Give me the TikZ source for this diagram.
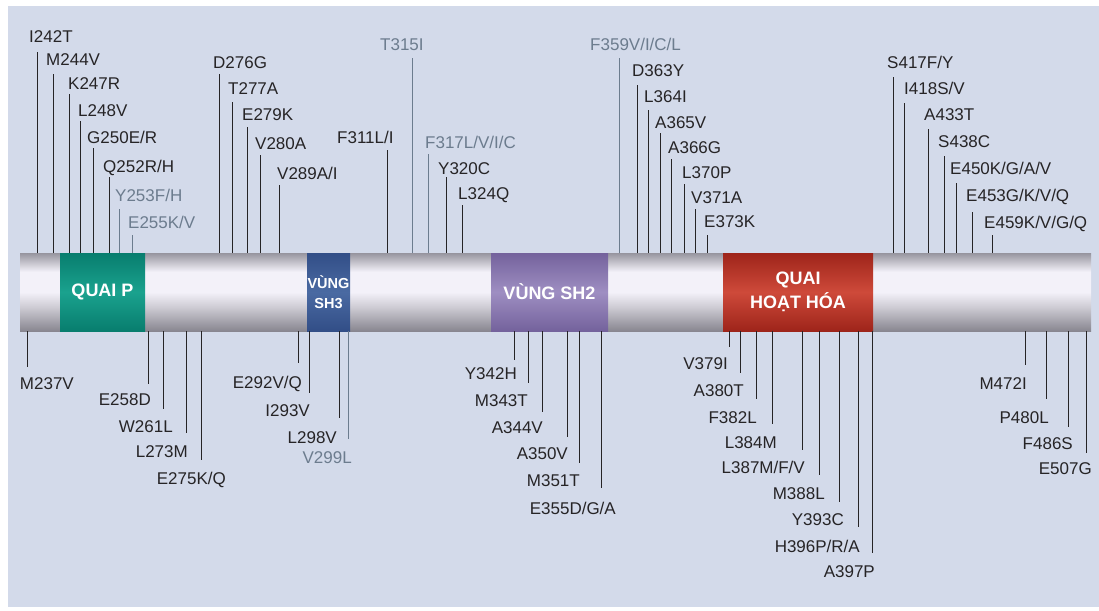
\documentclass[tikz,border=0pt]{standalone}
\usepackage{fontspec}
\setmainfont{Liberation Sans}
\definecolor{bgblue}{RGB}{211,218,234}
\definecolor{mutdark}{RGB}{38,36,38}
\definecolor{mutgray}{RGB}{108,124,142}
\definecolor{tubetop}{RGB}{150,148,158}
\definecolor{tubebot}{RGB}{136,134,144}
\definecolor{tubemid}{RGB}{204,202,210}
\definecolor{tubelight}{RGB}{243,241,249}
\definecolor{pedge}{RGB}{8,125,110}
\definecolor{plight}{RGB}{26,162,142}
\definecolor{sh3edge}{RGB}{50,78,135}
\definecolor{sh3light}{RGB}{74,106,162}
\definecolor{sh2edge}{RGB}{116,98,156}
\definecolor{sh2light}{RGB}{158,142,194}
\definecolor{aedge}{RGB}{158,36,26}
\definecolor{alight}{RGB}{206,74,58}
\pgfdeclareverticalshading{tube}{100bp}{color(0bp)=(tubebot); color(25bp)=(tubebot); color(40bp)=(tubemid); color(50bp)=(tubelight); color(63bp)=(tubelight); color(75bp)=(tubetop); color(100bp)=(tubetop)}

\begin{document}
\begin{tikzpicture}[x=1pt, y=-1pt,
  mutlabel/.style={inner sep=0pt, font=\fontsize{17}{20}\selectfont},
  tick/.style={line width=0.9pt},
  dombox/.style={inner sep=0pt, minimum height=78pt, text=white, align=center,
    font=\bfseries\fontsize{18}{24}\selectfont}]

\useasboundingbox (0,0) rectangle (1099,610);
\fill[bgblue] (8,6) rectangle (1099,607);

%---------------------------------------
% Protein bar and domains
%---------------------------------------
\node[shade, shading=tube, inner sep=0pt, minimum width=1071pt, minimum height=78pt] (bar) at (555.5,292) {};

\node[dombox, minimum width=85pt, top color=pedge, bottom color=pedge, middle color=plight] (quaip) at (102.5,292) {QUAI P};
\node[dombox, minimum width=43pt, top color=sh3edge, bottom color=sh3edge, middle color=sh3light,
  font=\bfseries\fontsize{14.5}{20}\selectfont] (sh3) at (328.5,292) {VÙNG\\SH3};
\node[dombox, minimum width=117pt, top color=sh2edge, bottom color=sh2edge, middle color=sh2light] (sh2) at (549.5,292) {VÙNG SH2};
\node[dombox, minimum width=150pt, top color=aedge, bottom color=aedge, middle color=alight] (hoathoa) at (798,292) {QUAI\\HOẠT HÓA};

%---------------------------------------
% Mutations above the bar
%---------------------------------------
\foreach \lx/\ty/\tx/\yc/\txt/\col in {
  37/52/29/37/I242T/mutdark,
  53/74/46/60/M244V/mutdark,
  69/94/68/83/K247R/mutdark,
  80/121/78/110/L248V/mutdark,
  93/148/87/137/{G250E/R}/mutdark,
  109/177/103/166/{Q252R/H}/mutdark,
  119/209/115/195/{Y253F/H}/mutgray,
  132/235/128/222/{E255K/V}/mutgray,
  219/74/213/62/D276G/mutdark,
  232/102/228/88/T277A/mutdark,
  247/127/242/114/E279K/mutdark,
  260/155/255/143/V280A/mutdark,
  279/185/277/173/{V289A/I}/mutdark,
  387/150/337/137/{F311L/I}/mutdark,
  412/58/380/45/T315I/mutgray,
  428/154/425/142/{F317L/V/I/C}/mutgray,
  446/177/438/168/Y320C/mutdark,
  462/205/458/193/L324Q/mutdark,
  619/58/590/45/{F359V/I/C/L}/mutgray,
  637/85/632/70/D363Y/mutdark,
  648/110/644/96/L364I/mutdark,
  660/133/655/122/A365V/mutdark,
  671/159/668/147/A366G/mutdark,
  684/184/682/172/L370P/mutdark,
  695/209/691/197/V371A/mutdark,
  707/235/704/221/E373K/mutdark,
  893/77/887/62/{S417F/Y}/mutdark,
  904/103/904/88/{I418S/V}/mutdark,
  928/129/924/114/A433T/mutdark,
  944/156/938/141/S438C/mutdark,
  956/183/950/168/{E450K/G/A/V}/mutdark,
  972/212/966/195/{E453G/K/V/Q}/mutdark,
  992/235/984/222/{E459K/V/G/Q}/mutdark}{
  \node[mutlabel, text=\col, anchor=base west] (top-\lx) at (\tx,\yc+6) {\txt};
  \coordinate (tend-\lx) at (\lx,\ty);
  \draw[tick, draw=\col] (bar.north -| tend-\lx) -- (tend-\lx);
}

%---------------------------------------
% Mutations below the bar
%---------------------------------------
\foreach \lx/\by/\tx/\yc/\txt/\col in {
  27/367/74/383/M237V/mutdark,
  148/384/151/399/E258D/mutdark,
  163/409/173/426/W261L/mutdark,
  186/433/188/451/L273M/mutdark,
  201/460/226/478/{E275K/Q}/mutdark,
  298/363/302/382/{E292V/Q}/mutdark,
  309/393/310/410/I293V/mutdark,
  339/418/337/437/L298V/mutdark,
  348/439/352/457/V299L/mutgray,
  514/360/517/373/Y342H/mutdark,
  528/383/528/400/M343T/mutdark,
  542/412/543/427/A344V/mutdark,
  567/437/568/453/A350V/mutdark,
  579/463/580/480/M351T/mutdark,
  601/488/616/508/{E355D/G/A}/mutdark,
  729/347/728/363/V379I/mutdark,
  740/373/744/390/A380T/mutdark,
  756/399/757/417/F382L/mutdark,
  772/424/777/442/L384M/mutdark,
  802/450/805/467/{L387M/F/V}/mutdark,
  819/475/825/493/M388L/mutdark,
  839/502/844/519/Y393C/mutdark,
  858/527/860/546/{H396P/R/A}/mutdark,
  872/553/875/571/A397P/mutdark,
  1025/365/1027/383/M472I/mutdark,
  1046/399/1049/417/P480L/mutdark,
  1068/427/1073/443/F486S/mutdark,
  1086/453/1092/468/E507G/mutdark}{
  \node[mutlabel, text=\col, anchor=base east] (bot-\lx) at (\tx,\yc+6) {\txt};
  \coordinate (bend-\lx) at (\lx,\by);
  \draw[tick, draw=\col] (bar.south -| bend-\lx) -- (bend-\lx);
}

\end{tikzpicture}
\end{document}
